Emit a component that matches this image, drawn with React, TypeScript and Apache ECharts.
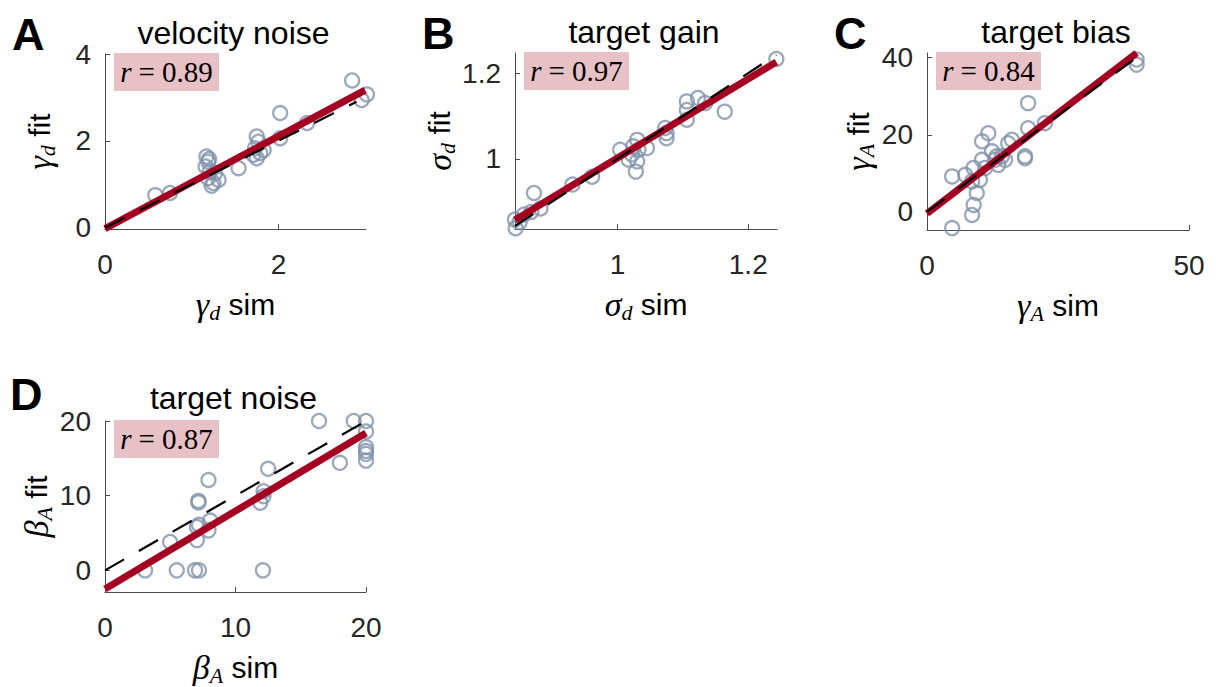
import React, { useEffect, useRef } from 'react';
import * as echarts from 'echarts';

// ---- Data ----
// Panel A: velocity noise (gamma_d)
const velocityNoiseSim = [0.58, 0.75, 1.17, 1.19, 1.16, 1.21, 1.19, 1.25, 1.31, 1.23, 1.27, 1.2, 1.54, 1.75, 1.77, 1.73, 1.71, 1.79, 1.75, 1.83, 2.02, 2.02, 2.33, 2.85, 2.96, 3.02];
const velocityNoiseFit = [0.75, 0.8, 1.64, 1.52, 1.41, 1.29, 1.14, 1.03, 1.1, 0.97, 1.26, 1.58, 1.37, 2.1, 1.98, 1.83, 1.68, 1.72, 1.6, 1.79, 2.06, 2.64, 2.41, 3.39, 2.94, 3.07];
const velocityNoiseReg = [[0, -0.02], [3.0, 3.17]];
const velocityNoiseIdentity = [[0, 0], [2.9, 2.9]];

// Panel B: target gain (sigma_d)
const targetGainSim = [0.843, 0.844, 0.85, 0.857, 0.868, 0.882, 0.872, 0.931, 0.961, 1.004, 1.017, 1.024, 1.03, 1.032, 1.045, 1.03, 1.028, 1.022, 1.073, 1.075, 1.075, 1.106, 1.106, 1.106, 1.123, 1.134, 1.164, 1.243];
const targetGainFit = [0.858, 0.838, 0.852, 0.87, 0.876, 0.884, 0.92, 0.94, 0.958, 1.021, 0.998, 1.029, 1.044, 1.021, 1.025, 0.994, 0.97, 1.01, 1.072, 1.06, 1.048, 1.134, 1.114, 1.091, 1.142, 1.13, 1.11, 1.233];
const targetGainReg = [[0.843, 0.857], [1.243, 1.226]];
const targetGainIdentity = [[0.843, 0.843], [1.243, 1.243]];

// Panel C: target bias (gamma_A)
const targetBiasSim = [4.8, 4.8, 7.3, 8.6, 8.9, 9.5, 8.9, 10.1, 10.5, 10.5, 11.7, 12.4, 11.1, 13.0, 13.6, 14.3, 14.9, 15.5, 16.2, 18.7, 18.7, 19.3, 19.3, 22.5, 40.0, 40.0, 8.6, 13.3];
const targetBiasFit = [9.2, -4.2, 9.6, -0.8, 1.8, 4.9, 11.4, 8.3, 13.5, 18.3, 20.4, 15.7, 11.4, 13.5, 12.2, 14.4, 13.5, 17.8, 18.7, 14.4, 13.9, 21.7, 28.2, 23.0, 39.5, 38.2, 7.9, 14.4];
const targetBiasReg = [[0, -0.4], [40, 41.2]];
const targetBiasIdentity = [[0, 0], [40.5, 40.5]];

// Panel D: target noise (beta_A)
const targetNoiseSim = [3.07, 5.5, 6.9, 7.2, 12.1, 4.99, 7.04, 7.04, 7.2, 7.93, 8.06, 7.16, 7.16, 7.93, 11.9, 12.15, 12.15, 12.5, 16.4, 18.0, 19.06, 20, 20, 20, 20, 20, 20];
const targetNoiseFit = [0, 0, 0, 0, 0, 3.8, 4.05, 5.8, 6.1, 5.36, 6.67, 9.3, 9.1, 12.1, 9.06, 9.93, 10.6, 13.6, 20.0, 14.4, 20.0, 20.0, 18.6, 16.5, 16.0, 15.6, 14.7];
const targetNoiseReg = [[0, -2.5], [20, 18.4]];
const targetNoiseIdentity = [[0, 0], [20, 20]];

const panelTitles = ['velocity noise', 'target gain', 'target bias', 'target noise'];
const panelLetters = ['A', 'B', 'C', 'D'];
const panelSymbols = ['γ', 'σ', 'γ', 'β'];
const panelSubscripts = ['d', 'd', 'A', 'A'];
const correlations = ['0.89', '0.97', '0.84', '0.87'];
const xTickValues = [[0, 2], [1, 1.2], [0, 50], [0, 10, 20]];
const yTickValues = [[0, 2, 4], [1, 1.2], [0, 20, 40], [0, 10, 20]];
const xRanges = [[0, 3.01], [0.843, 1.244], [0, 50], [0, 20]];
const yRanges = [[-0.03, 4], [0.836, 1.247], [-4.7, 41.2], [-2.9, 20]];

// ---- Layout / style (not data) ----
const grids = [
  { left: 105, top: 54, width: 261, height: 175 },
  { left: 515, top: 53, width: 262, height: 176 },
  { left: 927, top: 53, width: 262, height: 177 },
  { left: 105, top: 421, width: 261, height: 176 },
];

const SANS = '"Liberation Sans", Arial, Helvetica, sans-serif';
const SERIF = '"Liberation Serif", "DejaVu Serif", serif';
const AXIS_COLOR = '#4a4a4a';
const TICK_TEXT = '#262626';
const CIRCLE = '#8192aa';
const RED = '#a50021';
const PINK = '#e8c1c7';

const nameRich = {
  g: { fontFamily: SERIF, fontStyle: 'italic', fontSize: 34, lineHeight: 38, color: '#000' },
  s: { fontFamily: SERIF, fontStyle: 'italic', fontSize: 22, lineHeight: 22, verticalAlign: 'bottom', color: '#000' },
  t: { fontFamily: SANS, fontSize: 30, lineHeight: 38, color: '#000' },
};

function zip(xs: number[], ys: number[]) {
  return xs.map((x, i) => [x, ys[i]]);
}

const sims = [velocityNoiseSim, targetGainSim, targetBiasSim, targetNoiseSim];
const fits = [velocityNoiseFit, targetGainFit, targetBiasFit, targetNoiseFit];
const regs = [velocityNoiseReg, targetGainReg, targetBiasReg, targetNoiseReg];
const identities = [velocityNoiseIdentity, targetGainIdentity, targetBiasIdentity, targetNoiseIdentity];

function buildOption() {
  const xAxis: any[] = [];
  const yAxis: any[] = [];
  const series: any[] = [];
  const graphic: any[] = [];

  grids.forEach((g, i) => {
    const common = {
      type: 'value',
      gridIndex: i,
      splitLine: { show: false },
      axisLine: { show: true, onZero: false, lineStyle: { color: AXIS_COLOR, width: 1 } },
    };
    xAxis.push({
      ...common,
      min: xRanges[i][0],
      max: xRanges[i][1],
      axisTick: { show: true, inside: true, length: 5, customValues: xTickValues[i], lineStyle: { color: AXIS_COLOR } },
      axisLabel: { customValues: xTickValues[i], fontFamily: SANS, fontSize: 28, color: TICK_TEXT, margin: 21, showMinLabel: true, showMaxLabel: true },
      name: `{g|${panelSymbols[i]}}{s|${panelSubscripts[i]}}{t| sim}`,
      nameLocation: 'middle',
      nameGap: 56,
      nameTextStyle: { rich: nameRich },
    });
    yAxis.push({
      ...common,
      min: yRanges[i][0],
      max: yRanges[i][1],
      axisTick: { show: true, inside: true, length: 5, customValues: yTickValues[i], lineStyle: { color: AXIS_COLOR } },
      axisLabel: { customValues: yTickValues[i], fontFamily: SANS, fontSize: 28, color: TICK_TEXT, margin: 14, showMinLabel: true, showMaxLabel: true },
      name: `{g|${panelSymbols[i]}}{s|${panelSubscripts[i]}}{t| fit}`,
      nameLocation: 'middle',
      nameGap: 47,
      nameTextStyle: { rich: nameRich },
    });

    series.push({
      type: 'scatter',
      xAxisIndex: i,
      yAxisIndex: i,
      data: zip(sims[i], fits[i]),
      symbol: 'circle',
      symbolSize: 14,
      clip: false,
      itemStyle: { color: 'rgba(0,0,0,0)', borderColor: CIRCLE, borderWidth: 2.3 },
      z: 2,
    });
    series.push({
      type: 'line',
      xAxisIndex: i,
      yAxisIndex: i,
      data: regs[i],
      symbol: 'none',
      clip: false,
      lineStyle: { color: RED, width: 7 },
      z: 3,
    });
    series.push({
      type: 'line',
      xAxisIndex: i,
      yAxisIndex: i,
      data: identities[i],
      symbol: 'none',
      clip: false,
      lineStyle: { color: '#000', width: 2.2, type: [22, 17] },
      z: 4,
    });

    const cx = g.left + g.width / 2;
    // panel letter
    graphic.push({
      type: 'text',
      x: i === 3 ? 10 : g.left - 93,
      y: i === 3 ? 394 : g.top - 20,
      style: {
        text: panelLetters[i],
        fontFamily: SANS,
        fontWeight: 'bold',
        fontSize: 45,
        fill: '#000',
        align: 'left',
        verticalAlign: 'middle',
        textAlign: 'left',
        textVerticalAlign: 'middle',
      },
    });
    // title
    graphic.push({
      type: 'text',
      x: cx - 2,
      y: i === 3 ? 398 : g.top - 21,
      style: {
        text: panelTitles[i],
        fontFamily: SANS,
        fontSize: 32,
        fill: '#000',
        align: 'center',
        verticalAlign: 'middle',
        textAlign: 'center',
        textVerticalAlign: 'middle',
      },
    });
    // r box
    graphic.push({
      type: 'rect',
      shape: { x: g.left + 9, y: g.top - 1, width: 105, height: 38 },
      style: { fill: PINK },
      z: 10,
    });
    graphic.push({
      type: 'text',
      x: g.left + 9 + 52.5,
      y: g.top - 1 + 19,
      z: 11,
      style: {
        text: `{i|r}{e|=}{n|${correlations[i]}}`,
        fill: '#000',
        align: 'center',
        verticalAlign: 'middle',
        textAlign: 'center',
        textVerticalAlign: 'middle',
        rich: {
          i: { fontFamily: SERIF, fontStyle: 'italic', fontSize: 29 },
          e: { fontFamily: SERIF, fontSize: 29, padding: [0, 7] },
          n: { fontFamily: SERIF, fontSize: 29 },
        },
      },
    });
  });

  return {
    animation: false,
    backgroundColor: '#ffffff',
    grid: grids.map((g) => ({ ...g, containLabel: false })),
    xAxis,
    yAxis,
    series,
    graphic,
  };
}

export default function App() {
  const ref = useRef<HTMLDivElement>(null);
  useEffect(() => {
    if (!ref.current) return;
    const chart = echarts.init(ref.current, null, { renderer: 'svg' });
    chart.setOption(buildOption() as any);
    return () => chart.dispose();
  }, []);
  return <div ref={ref} style={{ position: 'fixed', left: 0, top: 0, width: 1216, height: 687 }} />;
}
